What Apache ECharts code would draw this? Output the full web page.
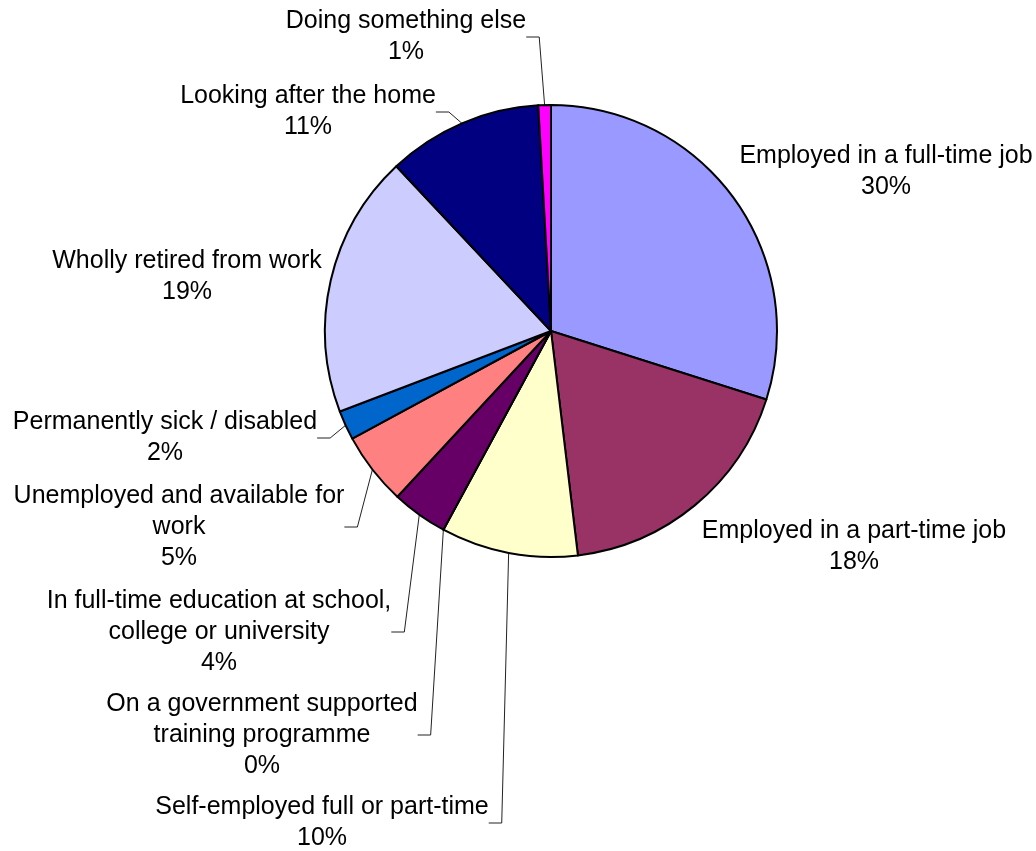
<!DOCTYPE html>
<html>
<head>
<meta charset="utf-8">
<title>Economic activity</title>
<script src="https://cdn.jsdelivr.net/npm/echarts@6/dist/echarts.min.js"></script>
<style>
  html, body { margin: 0; padding: 0; background: #ffffff; }
  #chart { width: 1036px; height: 851px; }
</style>
</head>
<body>
<div id="chart"></div>
<script>
// Share of respondents by economic activity (percent), clockwise from 12 o'clock
const categories = [
  'Employed in a full-time job',
  'Employed in a part-time job',
  'Self-employed full or part-time',
  'On a government supported training programme',
  'In full-time education at school, college or university',
  'Unemployed and available for work',
  'Permanently sick / disabled',
  'Wholly retired from work',
  'Looking after the home',
  'Doing something else'
];
const values = [29.9, 18.2, 9.8, 0, 4.0, 5.2, 2.1, 18.8, 11.1, 0.9];

// Label text as wrapped on the chart
const labelNames = [
  'Employed in a full-time job',
  'Employed in a part-time job',
  'Self-employed full or part-time',
  'On a government supported\ntraining programme',
  'In full-time education at school,\ncollege or university',
  'Unemployed and available for\nwork',
  'Permanently sick / disabled',
  'Wholly retired from work',
  'Looking after the home',
  'Doing something else'
];

const sliceColors = ['#9999FF', '#993366', '#FFFFCC', '#CCFFFF', '#660066',
                     '#FF8080', '#0066CC', '#CCCCFF', '#000080', '#FF00FF'];

// Where each label block is centred
const labelCenters = [
  [886, 172], [854, 547], [322, 823], [262, 735], [219, 632],
  [179, 527], [165, 438], [187, 277], [308, 112], [406, 37]
];
// Labels sitting next to their slice need no leader line
const showLeader = [false, false, true, true, true, true, true, false, true, true];

const chart = echarts.init(document.getElementById('chart'), null, { renderer: 'canvas' });

const data = categories.map((name, i) => ({
  name: name,
  value: values[i],
  itemStyle: { color: sliceColors[i] },
  labelLine: { show: showLeader[i] }
}));

chart.setOption({
  backgroundColor: '#ffffff',
  animation: false,
  series: [{
    type: 'pie',
    center: [551, 331],
    radius: 226,
    startAngle: 90,
    clockwise: true,
    avoidLabelOverlap: false,
    percentPrecision: 0,
    data: data,
    itemStyle: { borderColor: '#000000', borderWidth: 2 },
    emphasis: { disabled: true },
    label: {
      show: true,
      position: 'outside',
      formatter: p => labelNames[p.dataIndex] + '\n' + p.percent + '%',
      color: '#000000',
      fontFamily: '"Liberation Sans", Arial, sans-serif',
      fontSize: 25,
      lineHeight: 31,
      align: 'center'
    },
    labelLine: {
      show: true,
      length: 10,
      length2: 13,
      smooth: false,
      minTurnAngle: 90,
      lineStyle: { color: '#222222', width: 1 }
    },
    labelLayout: p => ({
      x: labelCenters[p.dataIndex][0],
      y: labelCenters[p.dataIndex][1],
      align: 'center',
      verticalAlign: 'middle',
      hideOverlap: false
    })
  }]
});
</script>
</body>
</html>
